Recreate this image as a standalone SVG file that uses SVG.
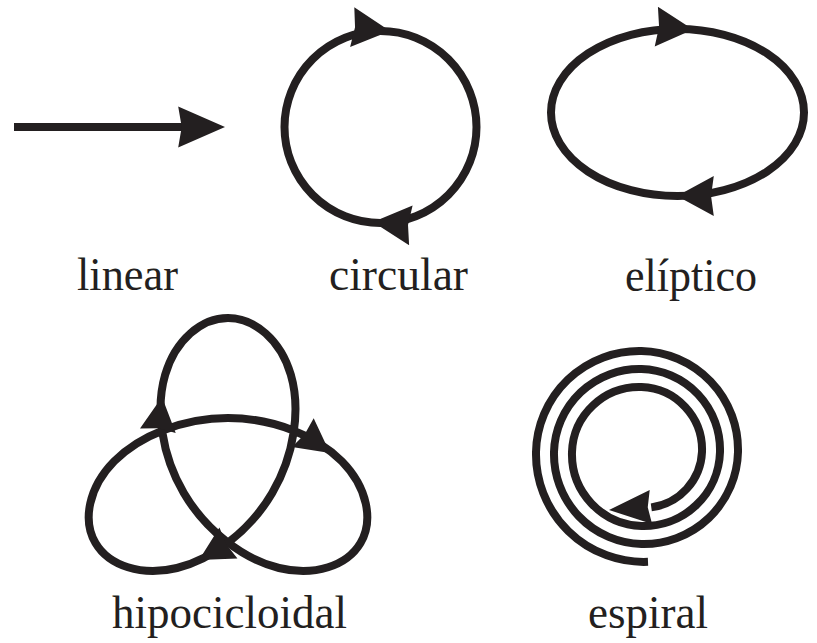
<svg xmlns="http://www.w3.org/2000/svg" xmlns:xlink="http://www.w3.org/1999/xlink" width="817" height="643" viewBox="0 0 817 643">
<style>
.s{fill:none;stroke:#231f20;stroke-width:8}
.a{fill:#231f20}
.t{font-family:"Liberation Serif","Times New Roman",serif;font-size:46px;fill:#231f20}
</style>
<defs>
<path id="ah" d="M0,0 L-40,-20 L-37,0 L-40,20 Z"/>
</defs>
<rect width="817" height="643" fill="#ffffff"/>
<g id="linear">
<line class="s" x1="14" y1="127" x2="185" y2="127"/>
<use xlink:href="#ah" class="a" transform="translate(225,127) scale(1.17,1.02)"/>
<text class="t" x="77" y="290" textLength="101" lengthAdjust="spacingAndGlyphs">linear</text>
</g>
<g id="circular">
<circle class="s" cx="380.5" cy="127" r="96"/>
<use xlink:href="#ah" class="a" transform="translate(390,31) rotate(6) scale(0.95,1)"/>
<use xlink:href="#ah" class="a" transform="translate(373,222) rotate(185) scale(0.95,1)"/>
<text class="t" x="329" y="290" textLength="139" lengthAdjust="spacingAndGlyphs">circular</text>
</g>
<g id="eliptico">
<ellipse class="s" cx="677.5" cy="112.5" rx="126.5" ry="83.5"/>
<use xlink:href="#ah" class="a" transform="translate(693,29.6) rotate(4.6) scale(0.92,1)"/>
<use xlink:href="#ah" class="a" transform="translate(677,196) rotate(180) scale(0.92,1)"/>
<text class="t" x="625" y="291" textLength="132" lengthAdjust="spacingAndGlyphs">elíptico</text>
</g>
<g id="hipocicloidal">
<path class="s" stroke-width="9" d="M228,418 C272.5,418 316.3,435.4 341.8,461.3 C367.3,487.2 373.85,520.33 360.5,543 C347.15,565.67 314.6,576.73 279,568 C243.4,559.27 206.05,530.79 183.8,493 C161.55,455.21 155.11,409.29 165.2,374.7 C175.29,340.11 201.3,318 228,318 C254.7,318 280.71,340.11 290.8,374.7 C300.89,409.29 294.45,455.21 272.2,493 C249.95,530.79 212.6,559.27 177,568 C141.4,576.73 108.85,565.67 95.5,543 C82.15,520.33 88.7,487.2 114.2,461.3 C139.7,435.4 183.5,418 228,418 Z"/>
<use xlink:href="#ah" class="a" transform="translate(162,397) rotate(-83) scale(0.85,0.9)"/>
<use xlink:href="#ah" class="a" transform="translate(330,453) rotate(37) scale(0.85,0.9)"/>
<use xlink:href="#ah" class="a" transform="translate(199,560) rotate(150) scale(0.85,0.9)"/>
<text class="t" x="112" y="628" textLength="235" lengthAdjust="spacingAndGlyphs">hipocicloidal</text>
</g>
<g id="espiral">
<path class="s" stroke-width="9" d="M648,561.8 A107.75,107.75 0 0 1 536,452 A103.25,103.25 0 0 1 641.5,351 A98.75,98.75 0 0 1 738,452 A94.25,94.25 0 0 1 641.5,544 A89.75,89.75 0 0 1 554,452 A85.25,85.25 0 0 1 641.5,369 A80.75,80.75 0 0 1 720,452 A76.25,76.25 0 0 1 641.5,526 A71.75,71.75 0 0 1 572,452 A67.25,67.25 0 0 1 641.5,387 A62.75,62.75 0 0 1 702,452 A58.5,58.5 0 0 1 651.3,507.4"/>
<use xlink:href="#ah" class="a" transform="translate(609,510) rotate(176) scale(1.05,0.85)"/>
<text class="t" x="588" y="628" textLength="120" lengthAdjust="spacingAndGlyphs">espiral</text>
</g>
</svg>
